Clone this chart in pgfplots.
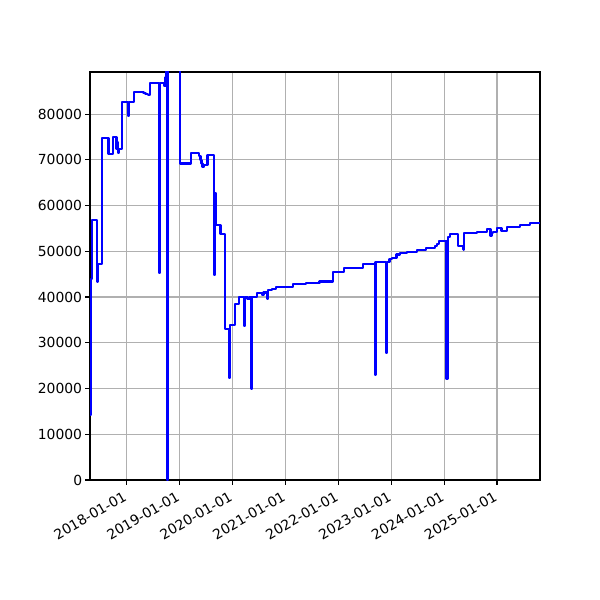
\documentclass[border=0pt]{standalone}
\usepackage{pgfplots}
\pgfplotsset{compat=1.18}
\usepackage{fontspec}
\setmainfont{DejaVu Sans}

\begin{document}
\begin{tikzpicture}
\path[use as bounding box] (-64.8pt,-86.4pt) rectangle (367.2pt,345.6pt);
\begin{axis}[%
width=324pt,
height=293.76pt,
at={(0pt,0pt)},
anchor=south west,
scale only axis,
xmin=2017.310,
xmax=2025.812,
ymin=0,
ymax=89200,
xtick={2018,2019,2020,2021,2022,2023,2024,2025},
xticklabels={2018-01-01,2019-01-01,2020-01-01,2021-01-01,2022-01-01,2023-01-01,2024-01-01,2025-01-01},
ytick={0,10000,20000,30000,40000,50000,60000,70000,80000},
scaled y ticks=false,
/pgf/number format/.cd,1000 sep={},assume math mode=true,
/pgfplots/.cd,
xmajorgrids,
ymajorgrids,
grid style={color=black!31, line width=0.8pt},
axis line style={line width=0.8pt},
tick style={black, line width=0.8pt},
tick align=outside,
major tick length=3.5pt,
xtick pos=bottom,
ytick pos=left,
tick label style={font=\fontsize{10}{12}\selectfont},
xticklabel style={rotate=30, anchor=north east, inner sep=2pt, xshift=-2.5pt},
yticklabel style={inner sep=2pt},
clip=true
]
\addplot[const plot mark left, color=blue, line width=1.5pt, line join=round] coordinates {
(2017.316,14200) (2017.322,43900) (2017.354,56800) (2017.437,43400)
(2017.462,47200) (2017.537,74700) (2017.660,71200) (2017.745,75000)
(2017.811,72300) (2017.830,73800) (2017.845,71400) (2017.864,72400)
(2017.906,82700) (2018.034,79600) (2018.043,82700) (2018.142,84800)
(2018.321,84600) (2018.359,84400) (2018.401,84100) (2018.444,86800)
(2018.614,45300) (2018.629,86800) (2018.708,86200) (2018.737,88000)
(2018.756,95000) (2018.765,0) (2018.780,95000) (2019.011,69200)
(2019.213,71400) (2019.375,70800) (2019.398,70000) (2019.417,69200)
(2019.436,68500) (2019.464,68900) (2019.530,71000) (2019.659,44800)
(2019.672,62800) (2019.683,55700) (2019.776,53700) (2019.861,33000)
(2019.937,22300) (2019.948,33900) (2020.050,38400) (2020.131,40100)
(2020.220,33700) (2020.231,40100) (2020.286,39600) (2020.324,40000)
(2020.362,19800) (2020.373,40100) (2020.466,40800) (2020.560,40500)
(2020.588,41000) (2020.664,39600) (2020.679,41500) (2020.749,41800)
(2020.825,42100) (2021.151,42800) (2021.391,43000) (2021.646,43400)
(2021.907,45400) (2022.109,46300) (2022.463,47200) (2022.686,23000)
(2022.704,47600) (2022.908,27800) (2022.922,47600) (2022.969,48400)
(2023.016,48600) (2023.101,49300) (2023.167,49600) (2023.300,49900)
(2023.483,50300) (2023.659,50800) (2023.829,51200) (2023.866,51600)
(2023.910,52300) (2024.046,22000) (2024.065,23000) (2024.078,53200)
(2024.112,53700) (2024.269,51200) (2024.367,50400) (2024.380,54000)
(2024.628,54300) (2024.805,54800) (2024.877,53400) (2024.896,54000)
(2024.924,54300) (2025.000,55000) (2025.085,54400) (2025.189,55400)
(2025.434,55700) (2025.623,56100) (2025.812,56100)
};
\end{axis}
\end{tikzpicture}
\end{document}
